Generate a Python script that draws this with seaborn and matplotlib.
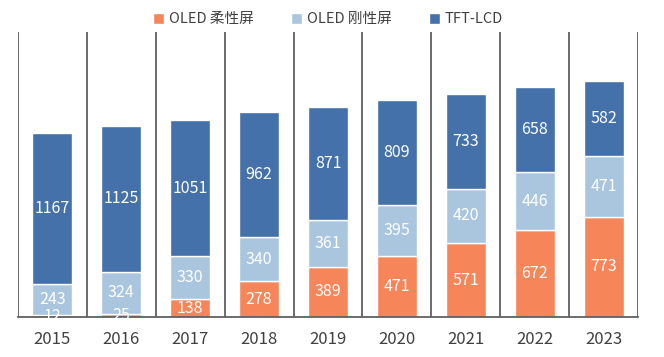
import numpy as np
import pandas as pd
import matplotlib.pyplot as plt
import seaborn as sns

# data
years = ["2015", "2016", "2017", "2018", "2019", "2020", "2021", "2022", "2023"]
oled_flex = [12, 25, 138, 278, 389, 471, 571, 672, 773]
oled_rigid = [243, 324, 330, 340, 361, 395, 420, 446, 471]
tft_lcd = [1167, 1125, 1051, 962, 871, 809, 733, 658, 582]

series_names = ["OLED 柔性屏", "OLED 刚性屏", "TFT-LCD"]
colors = ["#F7855A", "#A9C6DE", "#4471A9"]

sns.set_style("white")
plt.rcParams['font.family'] = ['Noto Sans CJK SC', 'DejaVu Sans']

fig = plt.figure(figsize=(6.64, 3.57), dpi=100)
ax = fig.add_axes([0.027, 0.112, 0.934, 0.798])

df = pd.DataFrame({"year": years, "flex": oled_flex, "rigid": oled_rigid, "lcd": tft_lcd})
bottom = np.zeros(len(years))
for col, name, c in zip(["flex", "rigid", "lcd"], series_names, colors):
    sns.barplot(data=df, x="year", y=col, color=c, width=0.58, bottom=bottom,
                label=name, ax=ax, saturation=1)
    for i, v in enumerate(df[col]):
        ax.text(i, bottom[i] + v / 2, str(v), ha="center", va="center",
                color="white", fontsize=11.5)
    bottom = bottom + df[col].values

# separator lines between categories
ax.vlines(np.arange(-0.5, len(years)), 0, 2200, color="#606060", lw=1.3)
ax.set_xlim(-0.5, len(years) - 0.5)
ax.set_ylim(0, 2200)
ax.set_yticks([])
ax.set_xlabel("")
ax.set_ylabel("")
for s in ["top", "left", "right"]:
    ax.spines[s].set_visible(False)
ax.spines["bottom"].set_color("#606060")
ax.spines["bottom"].set_linewidth(1.3)
ax.tick_params(axis="x", length=0, labelsize=12, labelcolor="#404040", pad=10)

ax.legend(loc="center", bbox_to_anchor=(0.5, 1.045), ncol=3, frameon=False,
          fontsize=10.5, handlelength=0.75, handleheight=0.75, handletextpad=0.3,
          columnspacing=2.6, labelcolor="#404040")

fig.savefig("out.png", dpi=100)
